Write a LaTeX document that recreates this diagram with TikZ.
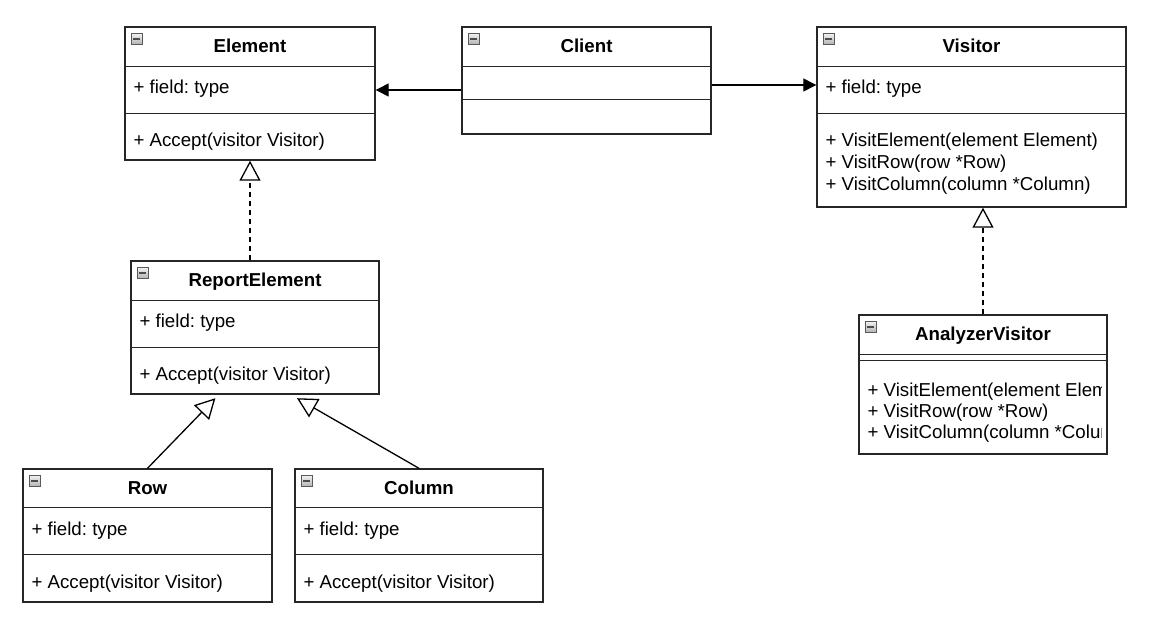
\documentclass[tikz,border=0pt]{standalone}
\usepackage{fontspec}
\setmainfont{Liberation Sans}
\usetikzlibrary{arrows.meta,calc}
\frenchspacing
\tikzset{
  box/.style={draw=black!85, line width=1.4pt, inner sep=0pt, fill=white},
  sepl/.style={draw=black!85, line width=1.3pt},
  ttl/.style={font=\fontsize{18.7}{22}\selectfont\bfseries, inner sep=0pt, text height=13.4pt, text depth=3.9pt},
  txt/.style={font=\fontsize{18.7}{22}\selectfont, inner sep=0pt, anchor=west, text height=13.4pt, text depth=3.9pt},
  conn/.style={line width=1.3pt, draw=black},
  inh/.style={conn, -{Triangle[open, length=20pt, width=21pt]}},
  real/.style={inh, dash pattern=on 5pt off 4pt},
  assoc/.style={conn, -{Triangle[length=13pt, width=13pt]}},
}
\newcommand\umlicon[1]{%
  \shade[top color=gray!10, bottom color=gray!60, draw=gray!70!black, line width=0.7pt]
    ($(#1.north west)+(7,7)$) rectangle ++(11,11);
  \fill[black!70] ($(#1.north west)+(9,11.5)$) rectangle ++(7,2.2);}
\begin{document}
\begin{tikzpicture}[x=1pt, y=-1pt]
\useasboundingbox[fill=white] (0,0) rectangle (1159,624);

% ---------- class boxes ----------
\node[box, minimum width=250pt, minimum height=133pt] (element) at (250,93.5) {};
\node[box, minimum width=249pt, minimum height=107pt] (client) at (586.5,80.5) {};
\node[box, minimum width=309pt, minimum height=180pt] (visitor) at (971.5,117) {};
\node[box, minimum width=248pt, minimum height=133pt] (re) at (255,327.5) {};
\node[box, minimum width=248pt, minimum height=139pt] (av) at (983,384.5) {};
\node[box, minimum width=249pt, minimum height=133pt] (row) at (147.5,535.5) {};
\node[box, minimum width=248pt, minimum height=133pt] (col) at (419,535.5) {};

% ---------- separators ----------
\foreach \n/\a/\b in {element/40/87, re/40/87, row/39/86, col/39/86, visitor/40/87, client/40.5/73.5}{
  \draw[sepl] ($(\n.north west)+(0,\a)$) -- ($(\n.north east)+(0,\a)$);
  \draw[sepl] ($(\n.north west)+(0,\b)$) -- ($(\n.north east)+(0,\b)$);
}
\draw[sepl] ($(av.north west)+(0,40.5)$) -- ($(av.north east)+(0,40.5)$);
\draw[sepl] ($(av.north west)+(0,46.5)$) -- ($(av.north east)+(0,46.5)$);

% ---------- icons ----------
\foreach \n in {element, client, visitor, re, av, row, col}{\umlicon{\n}}

% ---------- titles ----------
\node[ttl] (t1) at ($(element.north)+(0,21)$) {Element};
\node[ttl] (t2) at ($(client.north)+(0,21)$) {Client};
\node[ttl] (t3) at ($(visitor.north)+(0,21)$) {Visitor};
\node[ttl] (t4) at ($(re.north)+(0,21)$) {ReportElement};
\node[ttl] (t5) at ($(av.north)+(0,21)$) {AnalyzerVisitor};
\node[ttl] (t6) at ($(row.north)+(0,21)$) {Row};
\node[ttl] (t7) at ($(col.north)+(0,21)$) {Column};

% ---------- members ----------
\foreach \n in {element, re, row, col}{
  \node[txt] at ($(\n.north west)+(9,62)$) {+ field: type};
  \node[txt] at ($(\n.north west)+(9,115.5)$) {+ Accept(visitor Visitor)};
}
\node[txt] (vf) at ($(visitor.north west)+(9,62)$) {+ field: type};
\node[txt] (vm1) at ($(visitor.north west)+(9,115.5)$) {+ VisitElement(element Element)};
\node[txt] (vm2) at ($(visitor.north west)+(9,137.5)$) {+ VisitRow(row *Row)};
\node[txt] (vm3) at ($(visitor.north west)+(9,159.5)$) {+ VisitColumn(column *Column)};

\begin{scope}
  \clip ($(av.north west)+(1,48)$) rectangle ($(av.south east)+(-6,-1)$);
  \node[txt] (am1) at ($(av.north west)+(9,77)$) {+ VisitElement(element Element)};
  \node[txt] (am2) at ($(av.north west)+(9,98)$) {+ VisitRow(row *Row)};
  \node[txt] (am3) at ($(av.north west)+(9,119)$) {+ VisitColumn(column *Column)};
\end{scope}

% ---------- connectors ----------
\coordinate (cl) at ($(client.west)+(0,9.5)$);
\coordinate (cr) at ($(client.east)+(0,4.5)$);
\draw[assoc] (cl) -- (cl -| element.east);
\draw[assoc] (cr) -- (cr -| visitor.west);

\draw[real] (re.north -| element.south) -- (element.south);
\draw[real] (av.north) -- (av.north |- visitor.south);

\coordinate (rowtip) at ($(re.south)+(-39.6,3.5)$);
\coordinate (coltip) at ($(re.south)+(42,3.5)$);
\draw[inh] (row.north) -- (rowtip);
\draw[inh] (col.north) -- (coltip);
\end{tikzpicture}
\end{document}
